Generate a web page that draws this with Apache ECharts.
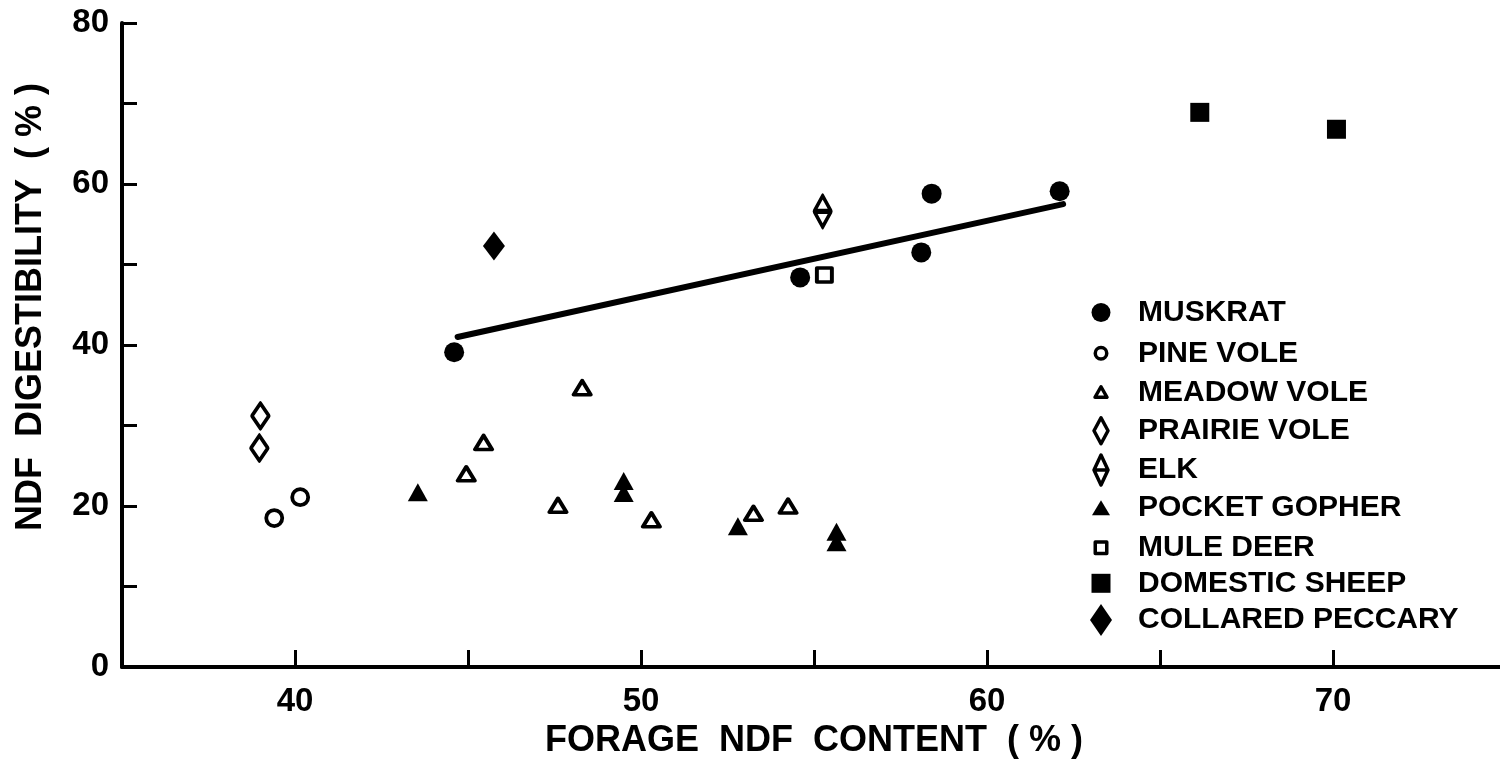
<!DOCTYPE html>
<html>
<head>
<meta charset="utf-8">
<title>NDF digestibility vs forage NDF content</title>
<script src="https://cdn.jsdelivr.net/npm/echarts@6/dist/echarts.min.js"></script>
<style>
  html, body { margin: 0; padding: 0; background: #fff; }
  #chart { width: 1500px; height: 767px; }
</style>
</head>
<body>
<div id="chart"></div>
<script>
// Forage NDF content (%) vs NDF digestibility (%), one array per species
const muskrat = [[44.6, 39.1], [54.6, 48.4], [58.1, 51.5], [58.4, 58.8], [62.1, 59.1]];
const pineVole = [[39.4, 18.5], [40.15, 21.1]];
const meadowVole = [[44.95, 24.0], [45.45, 27.9], [47.6, 20.1], [48.3, 34.7], [50.3, 18.3], [53.25, 19.1], [54.25, 20.0]];
const prairieVole = [[39.0, 31.2], [38.97, 27.2]];
const elk = [[55.25, 56.6]];
const pocketGopher = [[43.55, 21.7], [49.5, 23.1], [49.5, 21.6], [52.8, 17.5], [55.65, 16.8], [55.65, 15.5]];
const muleDeer = [[55.3, 48.7]];
const domesticSheep = [[66.15, 68.9], [70.1, 66.8]];
const collaredPeccary = [[45.75, 52.3]];
// Regression line for the muskrat points (end points)
const muskratFit = [[44.7, 41.0], [62.2, 57.5]];

const xTickLabels = [40, 50, 60, 70];
const yTickLabels = [0, 20, 40, 60, 80];

const FONT = "'Liberation Sans', Arial, sans-serif";
const OPEN = { color: '#fff', borderColor: '#000', borderWidth: 3.8, borderJoin: 'round', opacity: 1 };
const SOLID = { color: '#000', borderWidth: 0, opacity: 1 };

const elkPath = 'path://M10,0 L20,16 L10,32 L0,16 Z M0,16 L20,16';

// Legend icons drawn in a 44x34 box, centred at (12,17)
const BOX = 'M0,0 M44,34 ';
const legendIcons = {
  'MUSKRAT': BOX + 'M2.5,17 A9.5,9.5 0 1 1 21.5,17 A9.5,9.5 0 1 1 2.5,17 Z',
  'PINE VOLE': BOX + 'M6.25,17 A5.75,5.75 0 1 1 17.75,17 A5.75,5.75 0 1 1 6.25,17 Z',
  'MEADOW VOLE': BOX + 'M12,11.5 L18,22 L6,22 Z',
  'PRAIRIE VOLE': BOX + 'M12,4 L19,17 L12,30 L5,17 Z',
  'ELK': BOX + 'M12,2 L19,17 L12,32 L5,17 Z M5,17 L19,17',
  'POCKET GOPHER': BOX + 'M12,9.5 L21,24.5 L3,24.5 Z',
  'MULE DEER': BOX + 'M6.25,11.25 L17.75,11.25 L17.75,22.75 L6.25,22.75 Z',
  'DOMESTIC SHEEP': BOX + 'M2.5,7.5 L21.5,7.5 L21.5,26.5 L2.5,26.5 Z',
  'COLLARED PECCARY': BOX + 'M12,1 L23,17 L12,33 L1,17 Z'
};

const seriesDefs = [
  { name: 'MUSKRAT', data: muskrat, symbol: 'circle', size: 20, style: SOLID, open: false },
  { name: 'PINE VOLE', data: pineVole, symbol: 'circle', size: 16, style: OPEN, open: true },
  { name: 'MEADOW VOLE', data: meadowVole, symbol: 'triangle', size: [17, 14], style: OPEN, open: true },
  { name: 'PRAIRIE VOLE', data: prairieVole, symbol: 'diamond', size: [17, 25], style: OPEN, open: true },
  { name: 'ELK', data: elk, symbol: elkPath, size: [17, 31], style: OPEN, open: true },
  { name: 'POCKET GOPHER', data: pocketGopher, symbol: 'triangle', size: [20, 18], style: SOLID, open: false },
  { name: 'MULE DEER', data: muleDeer, symbol: 'rect', size: [15, 14], style: OPEN, open: true },
  { name: 'DOMESTIC SHEEP', data: domesticSheep, symbol: 'rect', size: 19, style: SOLID, open: false },
  { name: 'COLLARED PECCARY', data: collaredPeccary, symbol: 'diamond', size: [22, 29], style: SOLID, open: false }
];

const legendCenters = [312.5, 351.5, 390.5, 429, 468.3, 507.7, 546, 583.3, 620];

const series = [{
  type: 'line',
  name: 'fit',
  data: muskratFit,
  symbol: 'none',
  silent: true,
  lineStyle: { color: '#000', width: 6, cap: 'round', opacity: 1 },
  z: 1
}].concat(seriesDefs.map(d => ({
  type: 'scatter',
  name: d.name,
  data: d.data,
  symbol: d.symbol,
  symbolSize: d.size,
  itemStyle: d.style,
  emphasis: { disabled: true },
  z: 3
})));

const legends = seriesDefs.map((d, i) => ({
  data: [{
    name: d.name,
    icon: 'path://' + legendIcons[d.name],
    itemStyle: d.open
      ? { color: '#fff', borderColor: '#000', borderWidth: 3.5, opacity: 1 }
      : { color: '#000', borderWidth: 0, opacity: 1 }
  }],
  orient: 'vertical',
  left: d.open ? 1087.25 : 1089,
  top: legendCenters[i] - 17,
  itemWidth: 44,
  itemHeight: 34,
  padding: 0,
  selectedMode: false,
  textStyle: { fontFamily: FONT, fontWeight: 'bold', fontSize: 30, color: '#000' }
}));

const chart = echarts.init(document.getElementById('chart'), null, { renderer: 'canvas' });
chart.setOption({
  animation: false,
  backgroundColor: '#fff',
  grid: { left: 122, top: 23, width: 1384, height: 644, containLabel: false, outerBoundsMode: 'none' },
  xAxis: {
    type: 'value',
    min: 35, max: 75, interval: 5,
    name: 'FORAGE  NDF  CONTENT  ( % )',
    nameLocation: 'middle',
    nameGap: 56,
    nameTextStyle: { fontFamily: FONT, fontWeight: 'bold', fontSize: 36, color: '#000' },
    axisLine: { show: true, onZero: false, lineStyle: { color: '#000', width: 4 } },
    axisTick: { show: true, inside: true, length: 17, lineStyle: { color: '#000', width: 3 } },
    axisLabel: {
      margin: 18,
      fontFamily: FONT, fontWeight: 'bold', fontSize: 33, color: '#000',
      formatter: v => (xTickLabels.indexOf(v) >= 0 ? String(v) : '')
    },
    splitLine: { show: false }
  },
  yAxis: {
    type: 'value',
    min: 0, max: 80, interval: 10,
    axisLine: { show: true, onZero: false, lineStyle: { color: '#000', width: 4 } },
    axisTick: { show: true, inside: true, length: 15, lineStyle: { color: '#000', width: 3 } },
    axisLabel: {
      margin: 13,
      fontFamily: FONT, fontWeight: 'bold', fontSize: 33, color: '#000',
      formatter: v => (yTickLabels.indexOf(v) >= 0 ? String(v) : '')
    },
    splitLine: { show: false }
  },
  legend: legends,
  graphic: [{
    type: 'text',
    x: 31,
    y: 307,
    rotation: Math.PI / 2,
    style: {
      text: 'NDF  DIGESTIBILITY  ( % )',
      font: "bold 36px 'Liberation Sans', Arial, sans-serif",
      fill: '#000',
      textAlign: 'center',
      textVerticalAlign: 'middle'
    }
  }],
  series: series
});
</script>
</body>
</html>
